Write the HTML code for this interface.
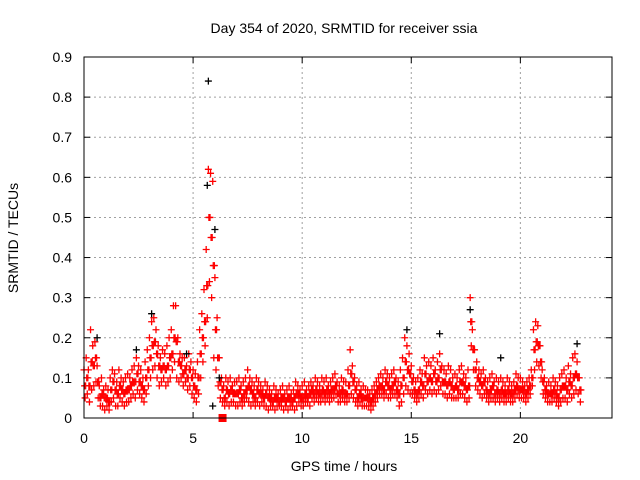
<!DOCTYPE html>
<html><head><meta charset="utf-8"><style>
html,body{margin:0;padding:0;background:#fff;}
svg{display:block;font-family:"Liberation Sans",sans-serif;}
</style></head><body>
<svg id="chart" width="640" height="480" viewBox="0 0 640 480">
<rect width="640" height="480" fill="#fff"/>
<text x="344" y="33" font-size="14" text-anchor="middle">Day 354 of 2020, SRMTID for receiver ssia</text>
<text x="344" y="471" font-size="14" text-anchor="middle">GPS time / hours</text>
<text x="18" y="238" font-size="14" text-anchor="middle" transform="rotate(-90 18 238)">SRMTID / TECUs</text>
<g id="grid"></g>
<g id="ticks"></g>
<g id="red"></g>
<g id="black"></g>
<rect x="84" y="57" width="528" height="361" fill="none" stroke="#000" stroke-width="1"/>
</svg>
<script>
const xTicks=[0,5,10,15,20];
const yTicks=[0,0.1,0.2,0.3,0.4,0.5,0.6,0.7,0.8,0.9];
const yTickLabels=["0","0.1","0.2","0.3","0.4","0.5","0.6","0.7","0.8","0.9"];
const redStart=0, redStep=0.1;
const redHigh=[.12,.15,.12,.22,.18,.19,.13,.08,.10,.07,
.08,.07,.10,.12,.11,.09,.12,.10,.09,.10,
.11,.10,.12,.13,.15,.13,.12,.10,.14,.17,
.20,.24,.25,.22,.18,.15,.17,.16,.18,.20,
.22,.28,.28,.20,.16,.15,.15,.13,.16,.14,
.12,.11,.14,.22,.26,.32,.42,.62,.61,.59,
.35,.25,.15,.10,.08,.10,.09,.10,.08,.09,
.09,.10,.08,.09,.10,.12,.10,.09,.08,.10,
.09,.08,.07,.09,.08,.07,.06,.08,.07,.06,
.07,.08,.06,.07,.08,.06,.07,.09,.08,.07,
.08,.09,.07,.08,.09,.08,.10,.09,.08,.10,
.09,.10,.08,.09,.10,.11,.09,.08,.10,.09,
.09,.12,.17,.13,.10,.08,.09,.07,.08,.07,
.07,.06,.07,.08,.09,.10,.11,.10,.12,.11,
.10,.11,.12,.10,.09,.12,.15,.20,.18,.16,
.13,.10,.09,.10,.12,.11,.15,.13,.14,.13,
.15,.12,.14,.16,.13,.12,.11,.13,.12,.10,
.11,.10,.12,.13,.11,.10,.12,.30,.22,.17,
.14,.12,.11,.12,.10,.09,.10,.11,.09,.10,
.09,.10,.09,.08,.10,.09,.08,.09,.11,.10,
.10,.09,.08,.09,.10,.12,.22,.24,.23,.18,
.12,.10,.08,.09,.08,.10,.09,.08,.10,.11,
.12,.10,.13,.11,.15,.16,.14,.10];
const redMid=[.08,.10,.08,.14,.13,.15,.09,.05,.06,.05,
.05,.04,.07,.09,.07,.06,.08,.07,.06,.07,
.07,.08,.09,.09,.11,.09,.08,.07,.10,.12,
.15,.18,.19,.16,.13,.12,.13,.12,.13,.15,
.16,.20,.19,.14,.13,.11,.12,.10,.12,.10,
.08,.07,.10,.16,.20,.24,.33,.50,.45,.38,
.22,.15,.09,.07,.05,.07,.06,.07,.06,.06,
.06,.07,.05,.06,.07,.08,.07,.06,.05,.07,
.06,.06,.05,.06,.05,.05,.04,.05,.05,.04,
.05,.05,.04,.05,.05,.04,.05,.06,.06,.05,
.05,.06,.05,.06,.07,.06,.07,.06,.06,.07,
.06,.07,.06,.07,.07,.08,.06,.06,.07,.06,
.06,.08,.11,.09,.07,.05,.06,.05,.05,.05,
.05,.04,.05,.06,.07,.08,.08,.07,.09,.08,
.07,.08,.09,.07,.06,.08,.10,.14,.12,.11,
.09,.07,.06,.07,.09,.08,.11,.09,.10,.09,
.11,.09,.10,.12,.09,.09,.08,.09,.08,.07,
.08,.07,.09,.09,.08,.07,.08,.24,.17,.12,
.10,.09,.08,.09,.07,.06,.07,.08,.06,.07,
.06,.07,.06,.06,.07,.06,.06,.07,.08,.07,
.07,.07,.06,.07,.08,.10,.17,.19,.18,.14,
.09,.07,.06,.06,.06,.07,.06,.05,.07,.08,
.08,.07,.09,.08,.10,.11,.10,.07];
const redLow=[.05,.06,.04,.07,.08,.09,.05,.03,.03,.02,
.03,.02,.04,.05,.03,.03,.05,.04,.03,.04,
.04,.05,.06,.05,.07,.06,.05,.04,.06,.08,
.10,.12,.13,.10,.08,.09,.10,.08,.09,.10,
.12,.14,.10,.09,.10,.08,.09,.07,.08,.06,
.05,.04,.06,.10,.14,.18,.25,.34,.30,.15,
.12,.08,.05,.04,.03,.04,.03,.04,.04,.03,
.03,.04,.03,.04,.05,.04,.03,.04,.03,.04,
.03,.04,.03,.03,.02,.03,.03,.02,.03,.03,
.03,.02,.03,.02,.03,.03,.02,.03,.04,.03,
.03,.04,.04,.03,.05,.04,.05,.04,.04,.05,
.04,.05,.04,.05,.05,.06,.04,.04,.05,.04,
.04,.05,.06,.05,.04,.03,.04,.03,.03,.03,
.03,.02,.03,.04,.05,.06,.06,.05,.06,.05,
.05,.06,.06,.05,.03,.04,.06,.08,.07,.06,
.06,.05,.04,.05,.06,.05,.07,.06,.07,.06,
.07,.06,.07,.08,.06,.06,.05,.06,.05,.05,
.05,.05,.06,.06,.05,.04,.05,.18,.12,.08,
.07,.06,.05,.06,.05,.04,.05,.05,.04,.05,
.04,.05,.04,.04,.05,.04,.04,.05,.06,.05,
.05,.05,.04,.05,.06,.08,.12,.14,.13,.10,
.06,.05,.04,.04,.04,.05,.04,.03,.04,.05,
.05,.04,.06,.05,.06,.07,.06,.04];
const blackT=[5.7,5.65,6.0,3.1,14.8,16.3,2.4,22.6,19.1,4.7,5.9,6.2,17.7,0.6];
const blackV=[0.84,0.58,0.47,0.26,0.22,0.21,0.17,0.185,0.15,0.16,0.03,0.10,0.27,0.2];
const markerT=[6.35], markerV=[0];

const X0=84,X1=612,Y0=418,Y1=57,XMAX=24.2,YMAX=0.9;
const sx=t=>X0+t/XMAX*(X1-X0);
const sy=v=>Y0-v/YMAX*(Y0-Y1);
const NS="http://www.w3.org/2000/svg";
function mk(tag,attrs,parent){const e=document.createElementNS(NS,tag);for(const k in attrs)e.setAttribute(k,attrs[k]);parent.appendChild(e);return e;}
const grid=document.getElementById('grid'),ticks=document.getElementById('ticks');
xTicks.forEach(t=>{const x=sx(t);
 const g=mk('line',{x1:x,x2:x,y1:Y1,y2:Y0,stroke:'#a0a0a0','stroke-dasharray':'2,3'},grid);
 
 
 mk('line',{x1:x,x2:x,y1:Y0,y2:Y0-6,stroke:'#000'},ticks);
 mk('line',{x1:x,x2:x,y1:Y1,y2:Y1+6,stroke:'#000'},ticks);
 const l=mk('text',{x:x,y:Y0+25,'font-size':14,'text-anchor':'middle'},ticks);l.textContent=t;
 
 
});
yTicks.forEach((v,i)=>{const y=sy(v);
 if(i>0&&i<yTicks.length-1){const g=mk('line',{x1:X0,x2:X1,y1:y,y2:y,stroke:'#a0a0a0','stroke-dasharray':'2,3'},grid);
 
 }
 mk('line',{x1:X0,x2:X0+6,y1:y,y2:y,stroke:'#000'},ticks);
 mk('line',{x1:X1,x2:X1-6,y1:y,y2:y,stroke:'#000'},ticks);
 const l=mk('text',{x:X0-12,y:y+5,'font-size':14,'text-anchor':'end'},ticks);l.textContent=yTickLabels[i];
 
 
});
function plus(x,y,color,parent,name){const p=mk('path',{d:`M${x-3.5},${y}h7M${x},${y-3.5}v7`,stroke:color,'stroke-width':1.3,fill:'none'},parent);
 
 }
const red=document.getElementById('red'),black=document.getElementById('black');
redHigh.forEach((v,i)=>plus(sx(redStart+i*redStep),sy(v),'#f00',red,'red-point'));
redMid.forEach((v,i)=>{plus(sx(redStart+i*redStep+0.025),sy(v),'#f00',red,'red-point');plus(sx(redStart+i*redStep+0.075),sy(v),'#f00',red,'red-point');});
redLow.forEach((v,i)=>plus(sx(redStart+i*redStep+0.05),sy(v),'#f00',red,'red-point'));
blackT.forEach((t,i)=>plus(sx(t),sy(blackV[i]),'#000',black,'black-point'));
markerT.forEach((t,i)=>{const r=mk('rect',{x:sx(t)-4,y:sy(markerV[i])-4,width:8,height:8,fill:'#f00'},red);
 
 });
</script>
</body></html>
